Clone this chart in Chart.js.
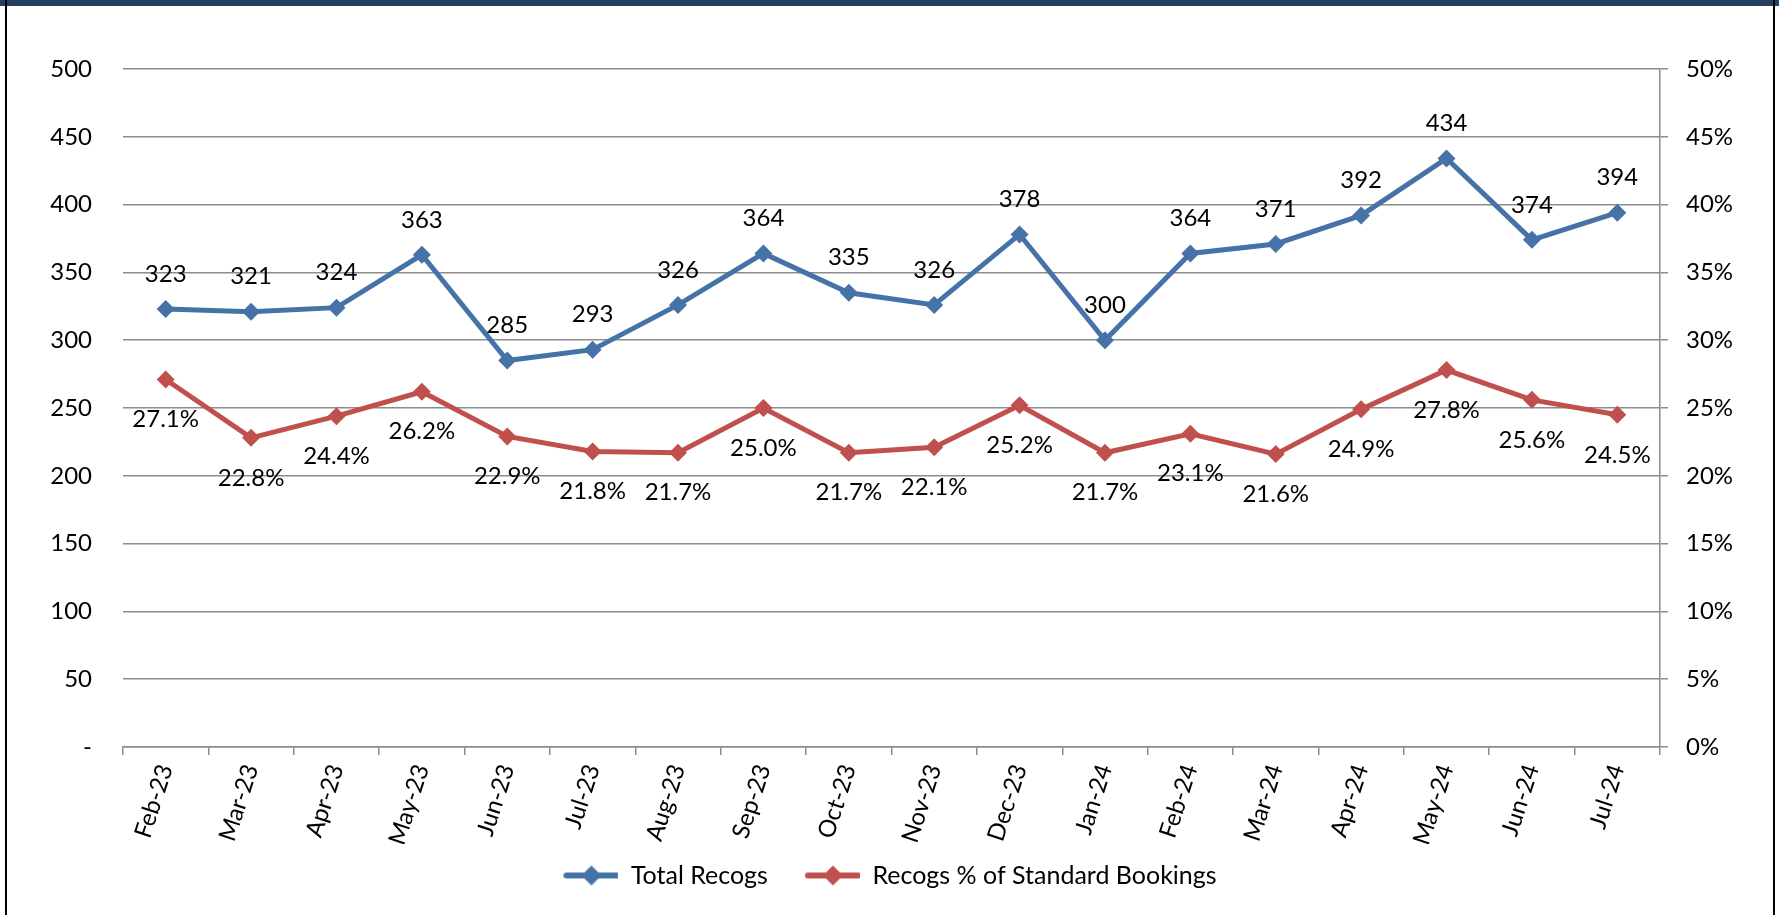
<!DOCTYPE html>
<html>
<head>
<meta charset="utf-8">
<script src="https://cdn.jsdelivr.net/npm/chart.js@4"></script>
<style>
  body { margin: 0; background: #fff; }
  #wrap { position: relative; width: 1779px; height: 915px; overflow: hidden; }
  #topbar { position: absolute; left: 0; top: 0; width: 1779px; height: 6px; background: #243f60; }
  #lborder { position: absolute; left: 5px; top: 0; width: 2px; height: 915px; background: #000; }
  #rborder { position: absolute; left: 1773px; top: 0; width: 2px; height: 915px; background: #000; }
  canvas { position: absolute; left: 0; top: 0; }
</style>
</head>
<body>
<div id="wrap">
  <canvas id="chart" width="1779" height="915"></canvas>
  <div id="topbar"></div>
  <div id="lborder"></div>
  <div id="rborder"></div>
</div>
<script>
var months = ['Feb-23', 'Mar-23', 'Apr-23', 'May-23', 'Jun-23', 'Jul-23', 'Aug-23', 'Sep-23', 'Oct-23',
  'Nov-23', 'Dec-23', 'Jan-24', 'Feb-24', 'Mar-24', 'Apr-24', 'May-24', 'Jun-24', 'Jul-24'];
var totalRecogs = [323, 321, 324, 363, 285, 293, 326, 364, 335, 326, 378, 300, 364, 371, 392, 434, 374, 394];
var recogsPct = [27.1, 22.8, 24.4, 26.2, 22.9, 21.8, 21.7, 25.0, 21.7, 22.1, 25.2, 21.7, 23.1, 21.6, 24.9, 27.8, 25.6, 24.5];

var FONT = 'Lato, "Noto Sans", sans-serif';
var GRID = '#8c8c8c';
var BLUE = '#4572a7';
var RED = '#c0504d';

// legend marker: line with a diamond in the middle
function legendIcon(color) {
  var c = document.createElement('canvas');
  c.width = 56; c.height = 22;
  var g = c.getContext('2d');
  g.strokeStyle = color;
  g.lineWidth = 6;
  g.lineCap = 'round';
  g.beginPath(); g.moveTo(4, 11); g.lineTo(54, 11); g.stroke();
  g.fillStyle = color;
  g.beginPath(); g.moveTo(29, 1); g.lineTo(39, 11); g.lineTo(29, 21); g.lineTo(19, 11); g.closePath(); g.fill();
  return c;
}

var valueLabels = {
  id: 'valueLabels',
  afterLayout: function (chart) {
    // pull the legend up a bit, closer to the rotated month labels
    chart.legend.top -= 17;
    chart.legend.bottom -= 17;
  },
  afterDatasetsDraw: function (chart) {
    var ctx = chart.ctx;
    ctx.save();
    ctx.font = '24px ' + FONT;
    ctx.fillStyle = '#000';
    ctx.textAlign = 'center';
    ctx.textBaseline = 'middle';
    chart.data.datasets.forEach(function (ds, i) {
      var meta = chart.getDatasetMeta(i);
      meta.data.forEach(function (pt, j) {
        var v = ds.data[j];
        if (i === 0) {
          ctx.fillText(String(v), pt.x, pt.y - 35);
        } else {
          ctx.fillText(v.toFixed(1) + '%', pt.x, pt.y + 40);
        }
      });
    });
    ctx.restore();
  }
};

var ctx = document.getElementById('chart').getContext('2d');
new Chart(ctx, {
  type: 'line',
  data: {
    labels: months,
    datasets: [{
      label: 'Total Recogs',
      data: totalRecogs,
      yAxisID: 'y',
      borderColor: BLUE,
      backgroundColor: BLUE,
      borderWidth: 5,
      pointStyle: 'rectRot',
      pointRadius: 9,
      pointHoverRadius: 9,
      pointBorderWidth: 0,
      tension: 0
    }, {
      label: 'Recogs % of Standard Bookings',
      data: recogsPct,
      yAxisID: 'y1',
      borderColor: RED,
      backgroundColor: RED,
      borderWidth: 5,
      pointStyle: 'rectRot',
      pointRadius: 9,
      pointHoverRadius: 9,
      pointBorderWidth: 0,
      tension: 0
    }]
  },
  options: {
    responsive: false,
    animation: false,
    devicePixelRatio: 1,
    layout: { padding: { top: 69, bottom: 0, left: 0, right: 0 } },
    plugins: {
      tooltip: { enabled: false },
      legend: {
        position: 'bottom',
        labels: {
          usePointStyle: true,
          pointStyleWidth: 56,
          padding: 36,
          color: '#000',
          font: { family: FONT, size: 25 },
          generateLabels: function (chart) {
            return chart.data.datasets.map(function (ds, i) {
              return {
                text: ds.label,
                pointStyle: legendIcon(ds.borderColor),
                fillStyle: ds.borderColor,
                strokeStyle: ds.borderColor,
                lineWidth: 0,
                hidden: false,
                datasetIndex: i,
                fontColor: '#000'
              };
            });
          }
        }
      }
    },
    scales: {
      x: {
        offset: true,
        grid: { offset: true, drawOnChartArea: false, color: GRID, lineWidth: 1.5, tickLength: 8 },
        border: { color: GRID, width: 1.5 },
        ticks: { color: '#000', minRotation: 72, maxRotation: 72, padding: 6, font: { family: FONT, size: 24 } },
        afterFit: function (scale) { scale.height = 97; }
      },
      y: {
        position: 'left',
        min: 0,
        max: 500,
        grid: { color: GRID, lineWidth: 1.5, drawTicks: false },
        border: { display: false },
        ticks: {
          stepSize: 50,
          padding: 31,
          color: '#000',
          font: { family: FONT, size: 24 },
          callback: function (v) { return v === 0 ? '-' : v; }
        },
        afterFit: function (scale) { scale.width = 123; }
      },
      y1: {
        position: 'right',
        min: 0,
        max: 50,
        grid: { drawOnChartArea: false, color: GRID, lineWidth: 1.5, tickLength: 8 },
        border: { color: GRID, width: 1.5 },
        ticks: {
          stepSize: 5,
          padding: 18,
          color: '#000',
          font: { family: FONT, size: 24 },
          callback: function (v) { return v + '%'; }
        },
        afterFit: function (scale) { scale.width = 119; }
      }
    }
  },
  plugins: [valueLabels]
});
</script>
</body>
</html>
